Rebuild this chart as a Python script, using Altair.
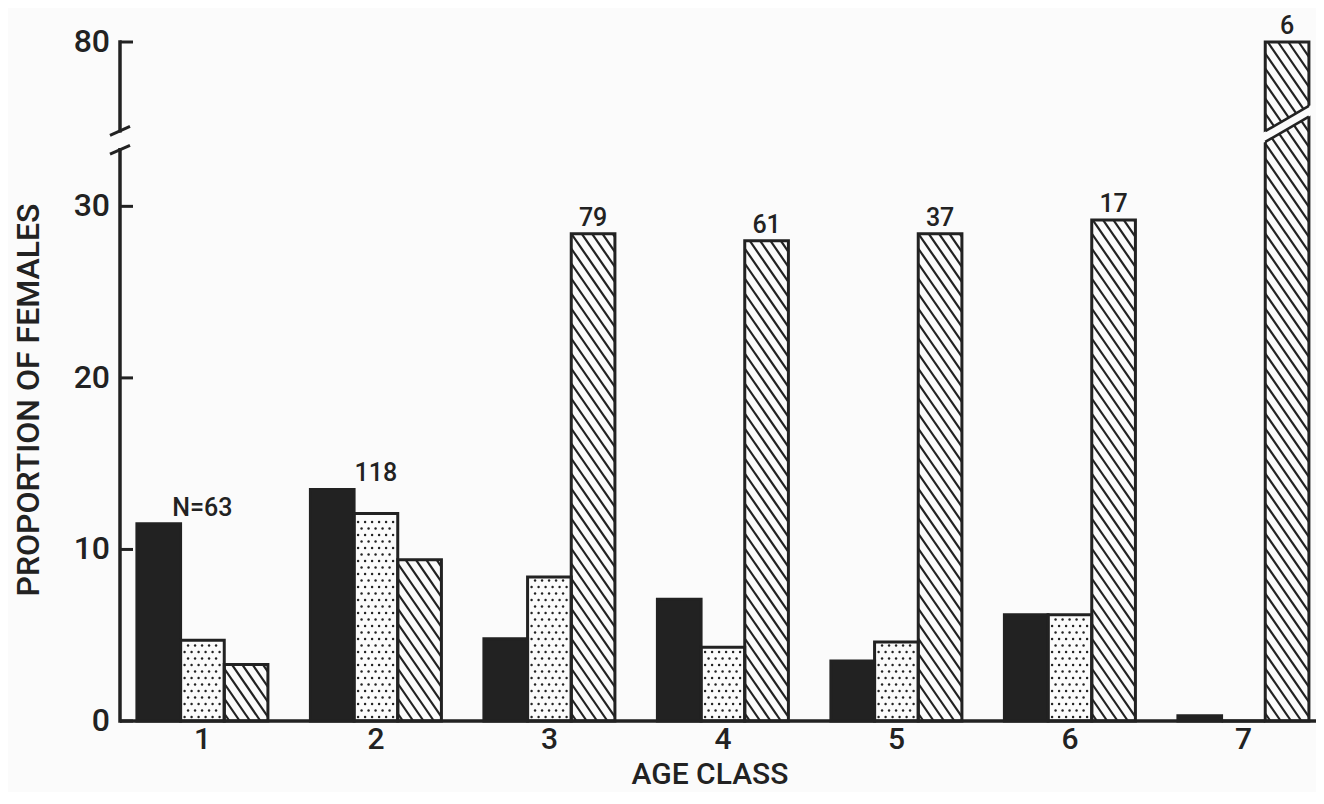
import altair as alt
import pandas as pd

# ---------------- data ----------------
age_classes = [1, 2, 3, 4, 5, 6, 7]
series_names = ["solid", "stippled", "hatched"]
solid_values = [11.5, 13.5, 4.8, 7.1, 3.5, 6.2, 0.3]
stippled_values = [4.7, 12.1, 8.4, 4.3, 4.6, 6.2, 0.0]
hatched_values = [3.3, 9.4, 28.4, 28.0, 28.4, 29.2, 80.0]
n_labels = ["N=63", "118", "79", "61", "37", "17", "6"]
n_label_anchor = ["group", "group", "hatched", "hatched", "hatched", "hatched", "hatched"]
y_tick_values = [0, 10, 20, 30, 80]
y_tick_labels = ["0", "10", "20", "30", "80"]
x_title = "AGE CLASS"
y_title = "PROPORTION OF FEMALES"

# ---------------- layout / style ----------------
INK = "#222222"
BG = "#fbfbfb"
FONT = "Roboto"
WEIGHT = 500
W, H = 1196, 679
STEP_PX = 173.5            # pixels per age class
X_MIN = 0.525
X_MAX = X_MIN + W / STEP_PX
BAR_W = 0.2517             # bar width in age-class units
Y_TOP = 39.58              # broken axis: where the 80 tick sits on the lower scale
AXIS_BREAK = (33.3, 34.4)  # lower / upper end of the axis break
BAR_BREAK = (34.07, 35.54) # break drawn across the 80 bar (left edge, right edge)
PX_X = STEP_PX
PX_Y = H / Y_TOP


def disp(v):
    """Position on the broken axis: linear up to the break, 80 at the top tick."""
    return v if v <= AXIS_BREAK[0] else Y_TOP


tick_pos = [disp(v) for v in y_tick_values]

x_scale = alt.Scale(domain=[X_MIN, X_MAX], nice=False, zero=False)
y_scale = alt.Scale(domain=[0, Y_TOP], nice=False, zero=False)


def X(field):
    return alt.X(field, type="quantitative", scale=x_scale, axis=None)


def Y(field):
    return alt.Y(field, type="quantitative", scale=y_scale, axis=None)


# ---------------- bars ----------------
rows = []
for i, a in enumerate(age_classes):
    for k, (s, vals) in enumerate(zip(series_names, [solid_values, stippled_values, hatched_values])):
        left = a + (k - 1.5) * BAR_W
        rows.append(dict(age=a, series=s, value=vals[i], y=disp(vals[i]), base=0.0,
                         x0=left, x1=left + BAR_W))
bars = pd.DataFrame(rows)

# hatch texture for the hatched bars
SLOPE, GAP = 1.45, 15.0
hatch = []
for r in rows:
    if r["series"] != "hatched":
        continue
    wpx = BAR_W * PX_X
    hpx = r["y"] * PX_Y
    b = GAP * 0.5
    while b < hpx + SLOPE * wpx:
        if b > hpx:
            xs, ys = (b - hpx) / SLOPE, hpx
        else:
            xs, ys = 0.0, b
        ye = b - SLOPE * wpx
        if ye < 0:
            xe, ye = b / SLOPE, 0.0
        else:
            xe = wpx
        if xe - xs > 0.5:
            hatch.append(dict(x=r["x0"] + xs / PX_X, y=ys / PX_Y,
                              x2=r["x0"] + xe / PX_X, y2=ye / PX_Y))
        b += GAP
hatch = pd.DataFrame(hatch)

# stipple texture for the stippled bars
DX, DY = 7.0, 6.5
dots = []
for r in rows:
    if r["series"] != "stippled" or r["value"] <= 0:
        continue
    wpx = BAR_W * PX_X
    hpx = r["y"] * PX_Y
    yy, row = 4.0, 0
    while yy < hpx - 3:
        xx = 4.0 + (row % 2) * DX / 2
        while xx < wpx - 3:
            dots.append(dict(x=r["x0"] + xx / PX_X, y=yy / PX_Y))
            xx += DX
        yy += DY
        row += 1
dots = pd.DataFrame(dots)

# N labels above each group
lab = []
for i, a in enumerate(age_classes):
    top = max(disp(solid_values[i]), disp(stippled_values[i]), disp(hatched_values[i]))
    xc = a if n_label_anchor[i] == "group" else a + BAR_W
    lab.append(dict(x=xc, y=top, text=n_labels[i]))
lab = pd.DataFrame(lab)

# break across the 80 bar
b80 = bars[(bars.age == age_classes[-1]) & (bars.series == "hatched")].iloc[0]
off = 5.4 / PX_Y
cut_white = pd.DataFrame([dict(line="w", x=b80.x0, y=BAR_BREAK[0]),
                          dict(line="w", x=b80.x1, y=BAR_BREAK[1])])
cut_edges = pd.DataFrame([
    dict(line="a", x=b80.x0, y=BAR_BREAK[0] + off), dict(line="a", x=b80.x1, y=BAR_BREAK[1] + off),
    dict(line="b", x=b80.x0, y=BAR_BREAK[0] - off), dict(line="b", x=b80.x1, y=BAR_BREAK[1] - off),
])

# axes (drawn by hand: broken y axis with inward ticks)
axis_segments = pd.DataFrame([dict(y=0, y2=AXIS_BREAK[0]), dict(y=AXIS_BREAK[1], y2=Y_TOP)])
slash_h = 0.26
axis_slashes = pd.DataFrame([dict(y=AXIS_BREAK[0] - slash_h, y2=AXIS_BREAK[0] + slash_h),
                             dict(y=AXIS_BREAK[1] - slash_h, y2=AXIS_BREAK[1] + slash_h)])
y_ticks = pd.DataFrame(dict(y=tick_pos, label=y_tick_labels))
x_ticks = pd.DataFrame(dict(x=age_classes, label=[str(a) for a in age_classes]))
baseline_df = pd.DataFrame(dict(y=[0.0]))
titles_x = pd.DataFrame(dict(text=[x_title]))
titles_y = pd.DataFrame(dict(text=[y_title]))

# ---------------- layers ----------------
fills = alt.Chart(bars).mark_bar(strokeWidth=0).encode(
    x=X("x0"), x2="x1:Q", y=Y("y"), y2="base:Q",
    color=alt.Color("series:N", scale=alt.Scale(domain=series_names, range=[INK, BG, BG]), legend=None),
)

dot_layer = alt.Chart(dots).mark_circle(size=6, color=INK, opacity=1).encode(x=X("x"), y=Y("y"))

hatch_layer = alt.Chart(hatch).mark_rule(color=INK, strokeWidth=2.2).encode(
    x=X("x"), x2="x2:Q", y=Y("y"), y2="y2:Q",
)

outlines = alt.Chart(bars).mark_bar(fillOpacity=0, stroke=INK, strokeWidth=3).encode(
    x=X("x0"), x2="x1:Q", y=Y("y"), y2="base:Q",
)

cut_w = alt.Chart(cut_white).mark_line(color=BG, strokeWidth=9, strokeCap="square").encode(
    x=X("x"), y=Y("y"), detail="line:N",
)
cut_e = alt.Chart(cut_edges).mark_line(color=INK, strokeWidth=2.6).encode(
    x=X("x"), y=Y("y"), detail="line:N",
)

x_axis_line = alt.Chart(baseline_df).mark_rule(color=INK, strokeWidth=3.5).encode(
    x=alt.value(0), x2=alt.value(W), y=Y("y"),
)
y_axis_line = alt.Chart(axis_segments).mark_rule(color=INK, strokeWidth=3.5, strokeCap="square").encode(
    x=alt.value(0), y=Y("y"), y2="y2:Q",
)
slashes = alt.Chart(axis_slashes).mark_rule(color=INK, strokeWidth=3).encode(
    x=alt.value(-10), x2=alt.value(10), y=Y("y"), y2="y2:Q",
)
tick_layer = alt.Chart(y_ticks).mark_rule(color=INK, strokeWidth=3).encode(
    x=alt.value(0), x2=alt.value(13), y=Y("y"),
)
y_labels = alt.Chart(y_ticks).mark_text(font=FONT, fontSize=32, fontWeight=WEIGHT, color=INK,
                                        align="right", baseline="middle").encode(
    x=alt.value(-10), y=Y("y"), text="label:N",
)
x_labels = alt.Chart(x_ticks).mark_text(font=FONT, fontSize=30, fontWeight=WEIGHT, color=INK,
                                        align="center", baseline="alphabetic").encode(
    x=X("x"), y=alt.value(H + 28), text="label:N",
)
x_title_layer = alt.Chart(titles_x).mark_text(font=FONT, fontSize=30, fontWeight=WEIGHT, color=INK,
                                              align="center", baseline="alphabetic").encode(
    x=alt.value(590), y=alt.value(H + 63), text="text:N",
)
y_title_layer = alt.Chart(titles_y).mark_text(font=FONT, fontSize=32, fontWeight=WEIGHT, color=INK,
                                              align="center", baseline="alphabetic", angle=270).encode(
    x=alt.value(-81), y=alt.value(358), text="text:N",
)

labels = alt.Chart(lab).mark_text(font=FONT, fontSize=25, fontWeight=WEIGHT, color=INK,
                                  baseline="alphabetic", align="center", dy=-8).encode(
    x=X("x"), y=Y("y"), text="text:N",
)

chart = alt.layer(
    fills, dot_layer, hatch_layer, outlines, cut_w, cut_e,
    x_axis_line, y_axis_line, slashes, tick_layer,
    y_labels, x_labels, x_title_layer, y_title_layer, labels,
).properties(
    width=W, height=H,
    autosize=alt.AutoSizeParams(type="none"),
    padding={"left": 112, "top": 34, "right": 0, "bottom": 71},
    background=BG,
).configure_view(stroke="transparent")

chart.save("out.html", embed_options={"renderer": "svg", "actions": False})
